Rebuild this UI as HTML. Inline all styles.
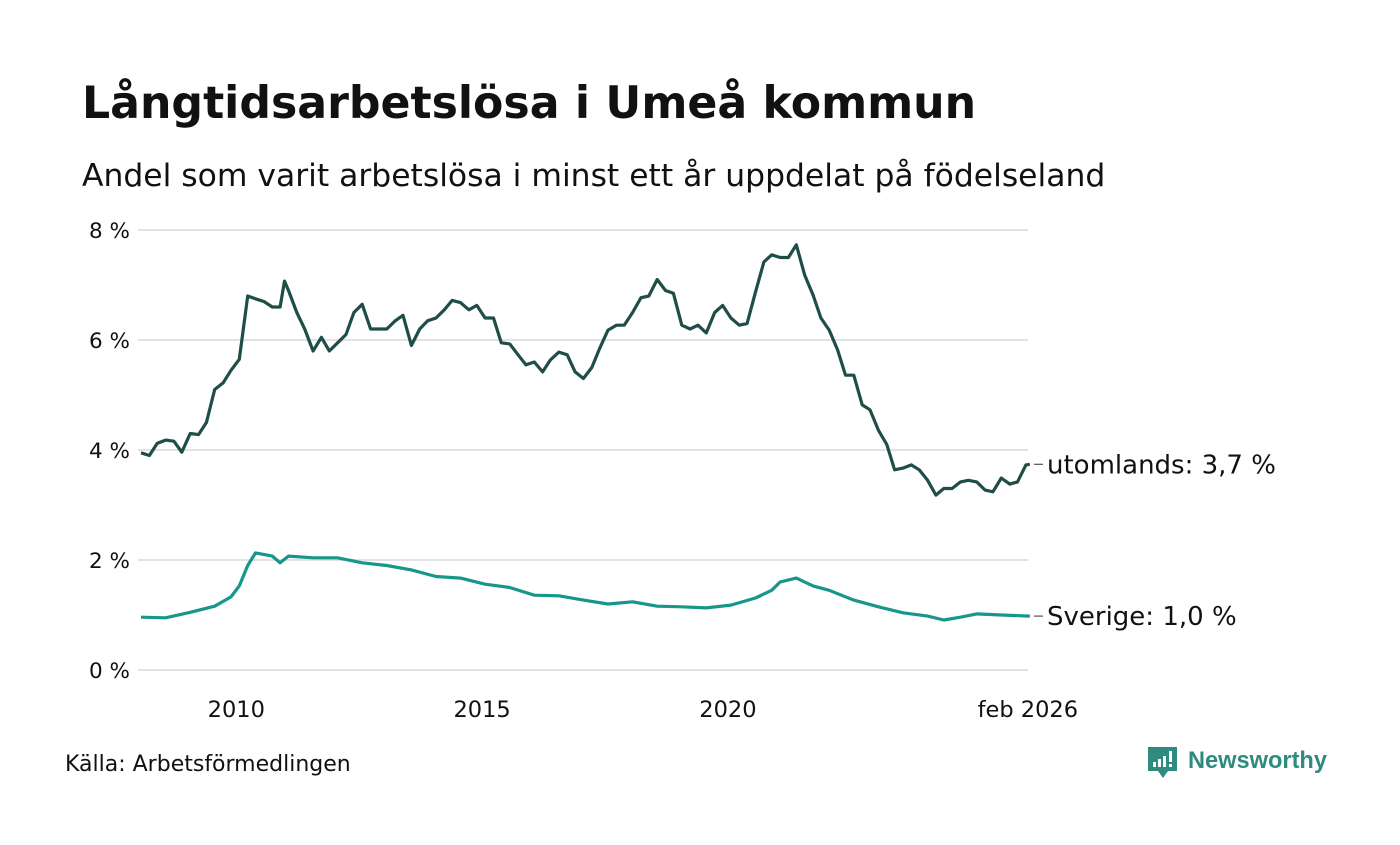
<!DOCTYPE html>
<html><head><meta charset="utf-8">
<style>
html,body{margin:0;padding:0;background:#fff;}
body{width:1400px;height:840px;overflow:hidden;font-family:"Liberation Sans","DejaVu Sans",sans-serif;}
</style></head>
<body>
<svg id="chart" width="1400" height="840" viewBox="0 0 1400 840" xmlns="http://www.w3.org/2000/svg">
<text x="82" y="118" font-family="'DejaVu Sans',sans-serif" font-weight="bold" font-size="44.2" fill="#111">Långtidsarbetslösa i Umeå kommun</text>
<text x="82" y="186" font-family="'DejaVu Sans',sans-serif" font-size="31.4" fill="#111">Andel som varit arbetslösa i minst ett år uppdelat på födelseland</text>
<g id="grid"></g>
<g id="xaxis"></g>
<g id="series"></g>
<text x="65" y="771" font-family="'DejaVu Sans',sans-serif" font-size="22" fill="#111">Källa: Arbetsförmedlingen</text>
<g>
<path d="M1148 747 h29 v24 h-9 l-5 7 l-5 -7 h-10 z" fill="#2f8a80"/>
<rect x="1153" y="762" width="3" height="5" fill="#fff"/>
<rect x="1158" y="759" width="3" height="8" fill="#fff"/>
<rect x="1163" y="756" width="3" height="11" fill="#fff"/>
<rect x="1169" y="751" width="3" height="11" fill="#fff"/>
<rect x="1169" y="764" width="3" height="3" fill="#fff"/>
<text x="1188" y="768" font-family="'Liberation Sans',sans-serif" font-weight="bold" font-size="23.6" fill="#2f8a80">Newsworthy</text>
</g>
</svg>
<script>
const yTicks=[0,2,4,6,8];
const yTickLabels=["0 %","2 %","4 %","6 %","8 %"];
const xTicks=[2010,2015,2020,2026.08];
const xTickLabels=["2010","2015","2020","feb 2026"];
const utDates=[2008,2008.17,2008.33,2008.5,2008.67,2008.83,2009,2009.17,2009.33,2009.5,2009.67,2009.83,2010,2010.17,2010.33,2010.5,2010.67,2010.83,2010.92,2011,2011.17,2011.33,2011.5,2011.67,2011.83,2012,2012.17,2012.33,2012.5,2012.67,2012.83,2013,2013.17,2013.33,2013.5,2013.67,2013.83,2014,2014.17,2014.33,2014.5,2014.67,2014.83,2015,2015.17,2015.33,2015.5,2015.67,2015.83,2016,2016.17,2016.33,2016.5,2016.67,2016.83,2017,2017.17,2017.33,2017.5,2017.67,2017.83,2018,2018.17,2018.33,2018.5,2018.67,2018.83,2019,2019.17,2019.33,2019.5,2019.67,2019.83,2020,2020.17,2020.33,2020.5,2020.67,2020.83,2021,2021.17,2021.33,2021.5,2021.67,2021.83,2022,2022.17,2022.33,2022.5,2022.67,2022.83,2023,2023.17,2023.33,2023.5,2023.67,2023.83,2024,2024.17,2024.33,2024.5,2024.67,2024.83,2025,2025.17,2025.33,2025.5,2025.67,2025.83,2026,2026.08];
const utValues=[3.95,3.9,4.12,4.18,4.16,3.96,4.3,4.28,4.5,5.1,5.22,5.45,5.65,6.8,6.75,6.7,6.6,6.6,7.07,6.9,6.5,6.2,5.8,6.05,5.8,5.95,6.1,6.5,6.65,6.2,6.2,6.2,6.35,6.45,5.9,6.2,6.35,6.4,6.55,6.72,6.68,6.55,6.63,6.4,6.4,5.95,5.93,5.73,5.55,5.6,5.42,5.64,5.78,5.73,5.42,5.3,5.5,5.85,6.18,6.27,6.27,6.5,6.77,6.8,7.1,6.9,6.85,6.27,6.2,6.27,6.13,6.5,6.63,6.4,6.27,6.3,6.87,7.42,7.55,7.5,7.5,7.73,7.18,6.82,6.4,6.18,5.82,5.36,5.36,4.82,4.73,4.36,4.1,3.64,3.67,3.73,3.64,3.45,3.18,3.3,3.3,3.42,3.45,3.42,3.27,3.24,3.49,3.38,3.42,3.73,3.74];
const svDates=[2008,2008.5,2009,2009.5,2009.83,2010,2010.17,2010.33,2010.67,2010.83,2011,2011.5,2012,2012.5,2013,2013.5,2014,2014.5,2015,2015.5,2016,2016.5,2017,2017.5,2018,2018.5,2019,2019.5,2020,2020.5,2020.83,2021,2021.33,2021.67,2022,2022.5,2023,2023.5,2024,2024.33,2024.67,2025,2025.5,2026.08];
const svValues=[0.96,0.95,1.05,1.16,1.33,1.53,1.9,2.13,2.07,1.95,2.07,2.04,2.04,1.95,1.9,1.82,1.7,1.67,1.56,1.5,1.36,1.35,1.27,1.2,1.24,1.16,1.15,1.13,1.18,1.31,1.45,1.6,1.67,1.53,1.45,1.27,1.15,1.04,0.98,0.91,0.96,1.02,1.0,0.98];
const seriesLabels=["utomlands: 3,7 %","Sverige: 1,0 %"];

const NS="http://www.w3.org/2000/svg";
const x=t=>141+(t-2008)*49.16;
const y=v=>670-v*55;
const grid=document.getElementById('grid');
yTicks.forEach((v,i)=>{
  const l=document.createElementNS(NS,'line');
  
  
  l.setAttribute('x1',138);l.setAttribute('x2',1028);l.setAttribute('y1',y(v));l.setAttribute('y2',y(v));
  l.setAttribute('stroke','#e2e2e4');l.setAttribute('stroke-width','2');
  grid.appendChild(l);
  const t=document.createElementNS(NS,'text');
  
  
  t.setAttribute('x',130);t.setAttribute('y',y(v)+8);t.setAttribute('text-anchor','end');
  t.setAttribute('font-family',"'DejaVu Sans',sans-serif");t.setAttribute('font-size','21.5');t.setAttribute('fill','#111');
  t.textContent=yTickLabels[i];grid.appendChild(t);
});
const xa=document.getElementById('xaxis');
xTicks.forEach((v,i)=>{
  const t=document.createElementNS(NS,'text');
  
  
  t.setAttribute('x',x(v)-(i===3?2:3));t.setAttribute('y',717);t.setAttribute('text-anchor','middle');
  t.setAttribute('font-family',"'DejaVu Sans',sans-serif");t.setAttribute('font-size','22.5');t.setAttribute('fill','#111');
  t.textContent=xTickLabels[i];xa.appendChild(t);
});
const sg=document.getElementById('series');
function draw(dates,vals,color,name,label){
  const p=document.createElementNS(NS,'path');
  
  
  p.setAttribute('d',dates.map((d,i)=>(i?'L':'M')+x(d).toFixed(1)+' '+y(vals[i]).toFixed(1)).join(' '));
  p.setAttribute('fill','none');p.setAttribute('stroke',color);p.setAttribute('stroke-width','3.2');p.setAttribute('stroke-linejoin','round');
  sg.appendChild(p);
  const ly=y(vals[vals.length-1]);
  const d=document.createElementNS(NS,'line');
  
  
  d.setAttribute('x1',1034);d.setAttribute('x2',1043);d.setAttribute('y1',ly);d.setAttribute('y2',ly);
  d.setAttribute('stroke','#555');d.setAttribute('stroke-width','1.2');sg.appendChild(d);
  const t=document.createElementNS(NS,'text');
  
  
  t.setAttribute('x',1047);t.setAttribute('y',ly+9);
  t.setAttribute('font-family',"'DejaVu Sans',sans-serif");t.setAttribute('font-size','26');t.setAttribute('fill','#111');
  t.textContent=label;sg.appendChild(t);
}
draw(utDates,utValues,'#1f4d47','utomlands-line',seriesLabels[0]);
draw(svDates,svValues,'#17968a','sverige-line',seriesLabels[1]);
</script>
</body></html>
